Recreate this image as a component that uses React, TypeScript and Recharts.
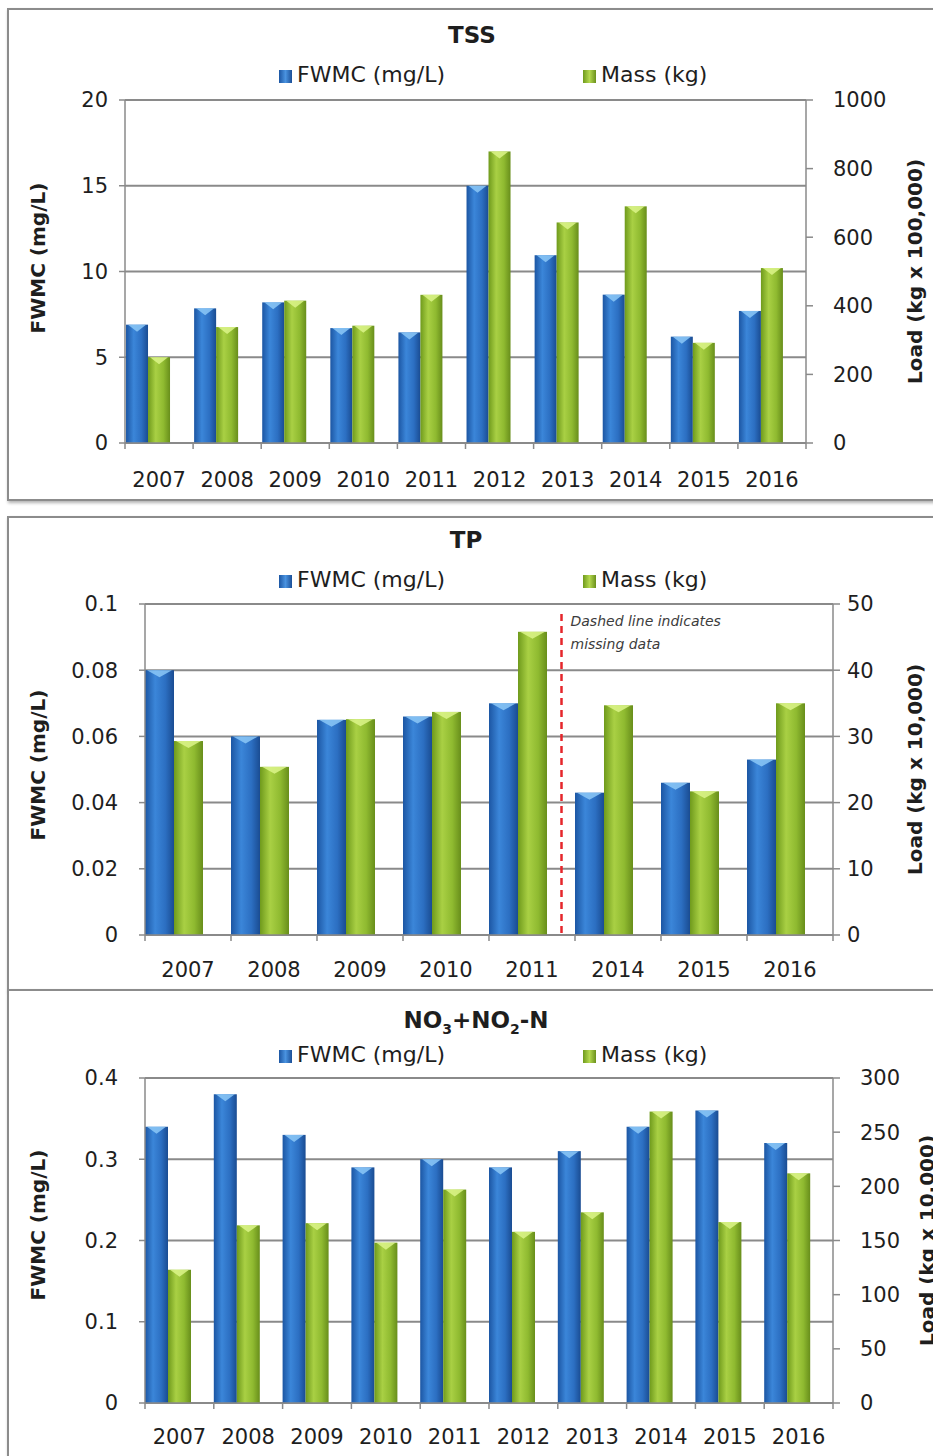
import React from "react";
import { Bar, CartesianGrid, ComposedChart, XAxis, YAxis } from "recharts";

const FONT = "'DejaVu Sans', sans-serif";
const INK = "#1e1e1e";
const AXIS = "#8a8a8a";

// TSS
const tssYears = ["2007", "2008", "2009", "2010", "2011", "2012", "2013", "2014", "2015", "2016"];
const tssFwmc = [6.9, 7.85, 8.2, 6.7, 6.45, 15.0, 10.95, 8.65, 6.2, 7.7];
const tssMass = [250, 338, 415, 342, 432, 850, 643, 690, 292, 510];
const tssLeftTicks = [0, 5, 10, 15, 20];
const tssRightTicks = [0, 200, 400, 600, 800, 1000];

// TP (2012, 2013 missing)
const tpYears = ["2007", "2008", "2009", "2010", "2011", "2014", "2015", "2016"];
const tpFwmc = [0.08, 0.06, 0.065, 0.066, 0.07, 0.043, 0.046, 0.053];
const tpMass = [29.3, 25.4, 32.6, 33.7, 45.8, 34.7, 21.7, 35.0];
// height of the "missing data" dashed marker, drawn in the empty third slot after 2011
const tpMissing = [null, null, null, null, 0.097, null, null, null];
const tpLeftTicks = [0, 0.02, 0.04, 0.06, 0.08, 0.1];
const tpRightTicks = [0, 10, 20, 30, 40, 50];

// NO3+NO2-N
const noYears = ["2007", "2008", "2009", "2010", "2011", "2012", "2013", "2014", "2015", "2016"];
const noFwmc = [0.34, 0.38, 0.33, 0.29, 0.3, 0.29, 0.31, 0.34, 0.36, 0.32];
const noMass = [123, 164, 166, 148, 197, 158, 176, 269, 167, 212];
const noLeftTicks = [0, 0.1, 0.2, 0.3, 0.4];
const noRightTicks = [0, 50, 100, 150, 200, 250, 300];

type Row = { year: string; fwmc: number; mass: number; gap: number | null };

const toRows = (years: string[], fwmc: number[], mass: number[], gap?: (number | null)[]): Row[] =>
  years.map((year, i) => ({ year, fwmc: fwmc[i], mass: mass[i], gap: gap ? gap[i] : null }));

const barShape = (gradId: string, cap: string) => (props: any) => {
  const { x, y, width, height } = props;
  if (!height || height <= 0) return null;
  const c = Math.min(7, height);
  return (
    <g>
      <rect x={x} y={y} width={width} height={height} fill={`url(#${gradId})`} />
      <polygon points={`${x + 2},${y} ${x + width - 2},${y} ${x + width / 2},${y + c}`} fill={cap} opacity={0.85} />
    </g>
  );
};

const missingShape = (props: any) => {
  const { x, y, width, height } = props;
  if (!height || height <= 0) return null;
  const cx = x + width / 2;
  return (
    <g>
      <line x1={cx} y1={y} x2={cx} y2={y + height} stroke="#e5262b" strokeWidth={2.5} strokeDasharray="7 5" />
      <text x={cx + 9} y={y + 12} fill="#3c3c3c" fontSize={14} fontStyle="italic">
        <tspan x={cx + 9}>Dashed line indicates</tspan>
        <tspan x={cx + 9} dy={23}>
          missing data
        </tspan>
      </text>
    </g>
  );
};

const xTick = (band: number, size: number, margin: number, count: number) => (props: any) => {
  const { x, y, payload, index } = props;
  const top = y - margin - size;
  return (
    <g>
      <line x1={x - band / 2} y1={top} x2={x - band / 2} y2={top + size} stroke={AXIS} strokeWidth={1.5} />
      {index === count - 1 && (
        <line x1={x + band / 2} y1={top} x2={x + band / 2} y2={top + size} stroke={AXIS} strokeWidth={1.5} />
      )}
      <text x={x} y={y} dy="0.71em" textAnchor="middle" fill={INK} fontSize={21}>
        {payload.value}
      </text>
    </g>
  );
};

type PanelProps = {
  id: string;
  title: React.ReactNode;
  titleX: number;
  top: number;
  bottom: number;
  chartBottom: number;
  titleY: number;
  legendY: number;
  leftTitleY: number;
  plotTop: number;
  plotBottom: number;
  plotLeft: number;
  plotRight: number;
  leftTickMargin: number;
  rightTickMargin: number;
  xTickMargin: number;
  rightTitleOffset: number;
  gap: string | number;
  rows: Row[];
  leftTicks: number[];
  rightTicks: number[];
  rightTitle: string;
};

function Panel(p: PanelProps) {
  const W = 933;
  const chartTop = p.top + 2;
  const chartH = p.chartBottom - chartTop;
  const n = p.rows.length;
  const band = (p.plotRight - p.plotLeft) / n;
  const blue = `${p.id}-blue`;
  const green = `${p.id}-green`;
  const leftMax = p.leftTicks[p.leftTicks.length - 1];
  const rightMax = p.rightTicks[p.rightTicks.length - 1];
  const legendText = { position: "absolute" as const, top: p.legendY - 15, lineHeight: "30px", fontSize: 22, color: INK };
  const swatch = { display: "inline-block", width: 13, height: 13, marginRight: 5, verticalAlign: "-1px" };
  return (
    <>
      <div
        style={{
          position: "absolute",
          left: 7,
          top: p.top,
          width: 960,
          height: p.bottom - p.top - 4,
          border: "2px solid #8c8c8c",
          boxShadow: "1px 2px 3px rgba(0,0,0,0.3)",
          background: "#fff",
        }}
      />
      <div
        style={{
          position: "absolute",
          left: p.titleX - 200,
          width: 400,
          top: p.titleY - 15,
          lineHeight: "30px",
          textAlign: "center",
          fontWeight: 700,
          fontSize: 23,
          color: INK,
        }}
      >
        {p.title}
      </div>
      <div style={{ ...legendText, left: 279 }}>
        <span style={{ ...swatch, background: "linear-gradient(90deg,#1c56a3,#4a93e0,#1b4f97)" }} />
        FWMC (mg/L)
      </div>
      <div style={{ ...legendText, left: 583 }}>
        <span style={{ ...swatch, background: "linear-gradient(90deg,#6f9a1c,#b4d84e,#6a901c)" }} />
        Mass (kg)
      </div>
      <div style={{ position: "absolute", left: 0, top: chartTop }}>
        <ComposedChart
          width={W}
          height={chartH}
          data={p.rows}
          margin={{ top: p.plotTop - chartTop, right: 0, bottom: 0, left: 0 }}
          barCategoryGap={p.gap}
          barGap={0}
        >
          <defs>
            <linearGradient id={blue} x1="0" y1="0" x2="1" y2="0">
              <stop offset="0%" stopColor="#1c56a3" />
              <stop offset="35%" stopColor="#3b86d9" />
              <stop offset="70%" stopColor="#2c6fc2" />
              <stop offset="100%" stopColor="#1a4c92" />
            </linearGradient>
            <linearGradient id={green} x1="0" y1="0" x2="1" y2="0">
              <stop offset="0%" stopColor="#6f9a1c" />
              <stop offset="35%" stopColor="#a9d044" />
              <stop offset="70%" stopColor="#8fba30" />
              <stop offset="100%" stopColor="#688e1b" />
            </linearGradient>
          </defs>
          <CartesianGrid vertical={false} stroke={AXIS} strokeWidth={2} yAxisId="left" />
          <XAxis
            dataKey="year"
            interval={0}
            height={p.chartBottom - p.plotBottom}
            axisLine={{ stroke: AXIS, strokeWidth: 1.5 }}
            tickLine={false}
            tickSize={6}
            tickMargin={p.xTickMargin}
            tick={xTick(band, 6, p.xTickMargin, n)}
          />
          <YAxis
            yAxisId="left"
            width={p.plotLeft}
            domain={[0, leftMax]}
            ticks={p.leftTicks}
            interval={0}
            axisLine={{ stroke: AXIS, strokeWidth: 1.5 }}
            tickLine={{ stroke: AXIS, strokeWidth: 1.5 }}
            tickSize={6}
            tickMargin={p.leftTickMargin}
            tick={{ fill: INK, fontSize: 21 }}
          />
          <YAxis
            yAxisId="right"
            orientation="right"
            width={W - p.plotRight}
            domain={[0, rightMax]}
            ticks={p.rightTicks}
            interval={0}
            axisLine={{ stroke: AXIS, strokeWidth: 1.5 }}
            tickLine={{ stroke: AXIS, strokeWidth: 1.5 }}
            tickSize={7}
            tickMargin={p.rightTickMargin}
            tick={{ fill: INK, fontSize: 21 }}
            label={{
              value: p.rightTitle,
              angle: -90,
              position: "insideRight",
              offset: p.rightTitleOffset,
              style: { textAnchor: "middle", fontWeight: 700, fontSize: 20, fill: INK },
            }}
          />
          <Bar yAxisId="left" dataKey="fwmc" fill="#2c6fc2" shape={barShape(blue, "#8cc8f7")} isAnimationActive={false} />
          <Bar yAxisId="right" dataKey="mass" fill="#9cc63a" shape={barShape(green, "#dcf58a")} isAnimationActive={false} />
          <Bar yAxisId="left" dataKey="gap" legendType="none" shape={missingShape} isAnimationActive={false} />
        </ComposedChart>
      </div>
      <div
        style={{
          position: "absolute",
          left: 38 - 150,
          top: p.leftTitleY - 15,
          width: 300,
          lineHeight: "30px",
          textAlign: "center",
          transform: "rotate(-90deg)",
          fontWeight: 700,
          fontSize: 20,
          color: INK,
        }}
      >
        FWMC (mg/L)
      </div>
    </>
  );
}

export default function App() {
  return (
    <div style={{ position: "relative", width: 933, height: 1456, overflow: "hidden", fontFamily: FONT, background: "#fff" }}>
      <style>{`body{margin:0;overflow:hidden}`}</style>
      <Panel
        id="tss"
        title="TSS"
        titleX={472}
        top={8}
        bottom={501}
        chartBottom={497}
        titleY={35}
        legendY={75}
        leftTitleY={258}
        plotTop={100}
        plotBottom={443}
        plotLeft={125}
        plotRight={806}
        leftTickMargin={11}
        rightTickMargin={20}
        xTickMargin={23}
        rightTitleOffset={18}
        gap="1.5%"
        rows={toRows(tssYears, tssFwmc, tssMass)}
        leftTicks={tssLeftTicks}
        rightTicks={tssRightTicks}
        rightTitle="Load (kg x 100,000)"
      />
      <Panel
        id="tp"
        title="TP"
        titleX={466}
        top={516}
        bottom={991}
        chartBottom={987}
        titleY={540}
        legendY={580}
        leftTitleY={765}
        plotTop={604}
        plotBottom={935}
        plotLeft={145}
        plotRight={833}
        leftTickMargin={21}
        rightTickMargin={7}
        xTickMargin={21}
        rightTitleOffset={18}
        gap={0}
        rows={toRows(tpYears, tpFwmc, tpMass, tpMissing)}
        leftTicks={tpLeftTicks}
        rightTicks={tpRightTicks}
        rightTitle="Load (kg x 10,000)"
      />
      <Panel
        id="no"
        title={
          <span>
            NO<sub style={{ fontSize: 14 }}>3</sub>+NO<sub style={{ fontSize: 14 }}>2</sub>-N
          </span>
        }
        titleX={476}
        top={989}
        bottom={1500}
        chartBottom={1456}
        titleY={1020}
        legendY={1055}
        leftTitleY={1225}
        plotTop={1078}
        plotBottom={1403}
        plotLeft={145}
        plotRight={833}
        leftTickMargin={21}
        rightTickMargin={20}
        xTickMargin={20}
        rightTitleOffset={6}
        gap={0}
        rows={toRows(noYears, noFwmc, noMass)}
        leftTicks={noLeftTicks}
        rightTicks={noRightTicks}
        rightTitle="Load (kg x 10,000)"
      />
    </div>
  );
}
